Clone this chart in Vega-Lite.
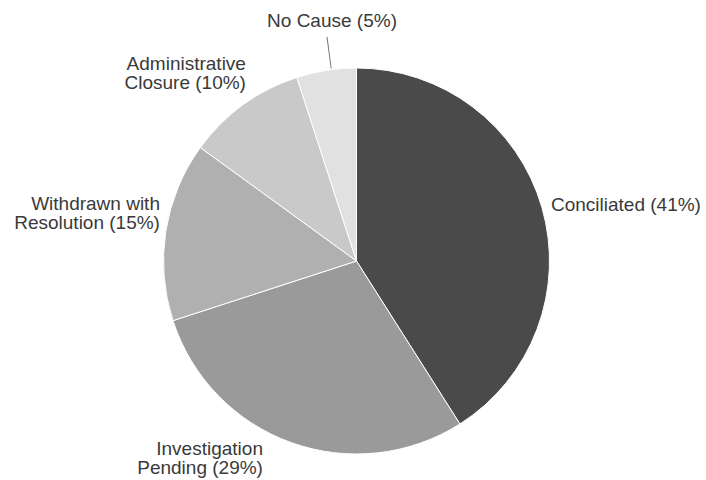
{
  "$schema": "https://vega.github.io/schema/vega-lite/v6.json",
  "autosize": {"type": "none"},
  "width": 699,
  "height": 438,
  "padding": {"left": 7, "top": 42, "right": 0, "bottom": 0},
  "background": "white",
  "config": {"view": {"stroke": null}, "text": {"font": "Liberation Sans", "fontSize": 19, "fill": "#3a3a3a", "lineBreak": "\n", "lineHeight": 19}},
  "data": {"values": [
    {"key": "C", "category": "Conciliated", "label": "Conciliated (41%)", "value": 41, "rank": 1},
    {"key": "I", "category": "Investigation Pending", "label": "Investigation\nPending (29%)", "value": 29, "rank": 2},
    {"key": "W", "category": "Withdrawn with Resolution", "label": "Withdrawn with\nResolution (15%)", "value": 15, "rank": 3},
    {"key": "A", "category": "Administrative Closure", "label": "Administrative\nClosure (10%)", "value": 10, "rank": 4},
    {"key": "N", "category": "No Cause", "label": "No Cause (5%)", "value": 5, "rank": 5}
  ]},
  "resolve": {"scale": {"theta": "independent"}},
  "layer": [
    {
      "mark": {"type": "arc", "radius": 193, "stroke": "white", "strokeWidth": 1},
      "encoding": {
        "theta": {"field": "value", "type": "quantitative", "stack": true},
        "order": {"field": "rank", "type": "quantitative"},
        "color": {"field": "category", "type": "nominal", "legend": null,
          "scale": {"domain": ["Conciliated", "Investigation Pending", "Withdrawn with Resolution", "Administrative Closure", "No Cause"],
                    "range": ["#4a4a4a", "#9a9a9a", "#b0b0b0", "#c9c9c9", "#e1e1e1"]}}
      }
    },
    {
      "transform": [{"filter": "datum.key === 'N'"}],
      "mark": {"type": "arc", "radius": 226, "radius2": 194, "color": "#777777"},
      "encoding": {
        "theta": {"field": "value", "type": "quantitative", "stack": true, "scale": {"domain": [0, 5], "range": [6.1500, 6.1546]}}
      }
    },
    {
      "mark": {"type": "text", "radius": 200, "align": "left", "baseline": "alphabetic", "dx": 2.4, "dy": 5.3},
      "encoding": {
        "theta": {"field": "value", "type": "quantitative", "stack": true},
        "order": {"field": "rank", "type": "quantitative"},
        "text": {"condition": {"test": "datum.key === 'C'", "field": "label"}, "value": ""}
      }
    },
    {
      "mark": {"type": "text", "radius": 200, "align": "right", "baseline": "alphabetic", "dx": -25.8, "dy": 5.8},
      "encoding": {
        "theta": {"field": "value", "type": "quantitative", "stack": true},
        "order": {"field": "rank", "type": "quantitative"},
        "text": {"condition": {"test": "datum.key === 'I'", "field": "label"}, "value": ""}
      }
    },
    {
      "mark": {"type": "text", "radius": 200, "align": "right", "baseline": "alphabetic", "dx": 1, "dy": -20},
      "encoding": {
        "theta": {"field": "value", "type": "quantitative", "stack": true},
        "order": {"field": "rank", "type": "quantitative"},
        "text": {"condition": {"test": "datum.key === 'W'", "field": "label"}, "value": ""}
      }
    },
    {
      "mark": {"type": "text", "radius": 200, "align": "right", "baseline": "alphabetic", "dx": 7, "dy": -29.2},
      "encoding": {
        "theta": {"field": "value", "type": "quantitative", "stack": true},
        "order": {"field": "rank", "type": "quantitative"},
        "text": {"condition": {"test": "datum.key === 'A'", "field": "label"}, "value": ""}
      }
    },
    {
      "mark": {"type": "text", "radius": 200, "align": "center", "baseline": "alphabetic", "dx": 6.8, "dy": -36.5},
      "encoding": {
        "theta": {"field": "value", "type": "quantitative", "stack": true},
        "order": {"field": "rank", "type": "quantitative"},
        "text": {"condition": {"test": "datum.key === 'N'", "field": "label"}, "value": ""}
      }
    }
  ]
}
